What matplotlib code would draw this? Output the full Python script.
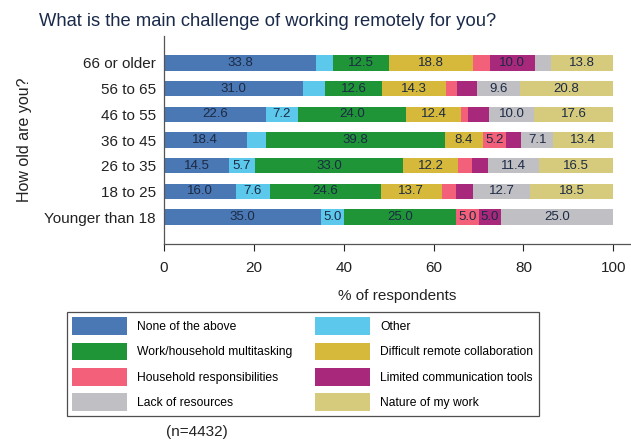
import numpy as np
import matplotlib
matplotlib.use('Agg')
import matplotlib.pyplot as plt

plt.rcParams['font.family'] = ['Liberation Sans', 'DejaVu Sans']

ages = ['Younger than 18', '18 to 25', '26 to 35', '36 to 45', '46 to 55', '56 to 65', '66 or older']
series = ['None of the above', 'Other', 'Work/household multitasking', 'Difficult remote collaboration',
          'Household responsibilities', 'Limited communication tools', 'Lack of resources', 'Nature of my work']
colors = ['#4a78b4', '#5cc8ec', '#1f9538', '#d6b93a', '#f2607a', '#a8287c', '#c0c0c4', '#d6ca7c']

none_above = [35.0, 16.0, 14.5, 18.4, 22.6, 31.0, 33.8]
other = [5.0, 7.6, 5.7, 4.3, 7.2, 4.9, 3.7]
multitask = [25.0, 24.6, 33.0, 39.8, 24.0, 12.6, 12.5]
remote_collab = [0.0, 13.7, 12.2, 8.4, 12.4, 14.3, 18.8]
household = [5.0, 3.1, 3.2, 5.2, 1.5, 2.5, 3.7]
comm_tools = [5.0, 3.8, 3.5, 3.4, 4.7, 4.3, 10.0]
resources = [25.0, 12.7, 11.4, 7.1, 10.0, 9.6, 3.7]
nature = [0.0, 18.5, 16.5, 13.4, 17.6, 20.8, 13.8]

data = [none_above, other, multitask, remote_collab, household, comm_tools, resources, nature]

fig = plt.figure(figsize=(6.31, 4.45), dpi=100)
ax = fig.add_axes([164/631, 1-244/445, 466/631, 208/445])

y = np.arange(len(ages))
left = np.zeros(len(ages))
txtcol = '#1c2a44'
for vals, name, c in zip(data, series, colors):
    vals = np.array(vals)
    ax.barh(y, vals, left=left, height=0.6, color=c, label=name)
    for yi, l, v in zip(y, left, vals):
        if v >= 5.0:
            ax.text(l + v/2, yi, '%.1f' % v, ha='center', va='center', fontsize=9.5, color=txtcol)
    left = left + vals

ax.set_xlim(0, 103.7)
ax.set_ylim(-1.05, 7.05)
ax.set_yticks(y)
ax.set_yticklabels(ages, fontsize=11, color='#222222')
ax.set_xticks([0, 20, 40, 60, 80, 100])
ax.tick_params(axis='x', labelsize=11, colors='#222222', length=5, pad=7)
ax.tick_params(axis='y', length=0, pad=6)
for s in ['top', 'right']:
    ax.spines[s].set_visible(False)
for s in ['left', 'bottom']:
    ax.spines[s].set_color('#555555')
    ax.spines[s].set_linewidth(0.9)
ax.set_xlabel('% of respondents', fontsize=11, color='#222222', labelpad=10)
ax.set_ylabel('How old are you?', fontsize=11.5, color='#222222', labelpad=9)

fig.text(268/631, 1-22/445, 'What is the main challenge of working remotely for you?',
         ha='center', va='center', fontsize=13.2, color='#1a2a4a')

h, l = ax.get_legend_handles_labels()
order = [0, 2, 4, 6, 1, 3, 5, 7]
leg = fig.legend([h[i] for i in order], [l[i] for i in order], ncol=2, loc='upper left',
                 bbox_to_anchor=(67/631, 1-312/445), borderaxespad=0, fontsize=8.7,
                 frameon=True, fancybox=False, edgecolor='#222222', handlelength=4.55,
                 handleheight=1.9, labelspacing=0.6, handletextpad=0.8, columnspacing=1.9,
                 borderpad=0.45)
leg.get_frame().set_linewidth(0.9)

fig.text(197/631, 1-432/445, '(n=4432)', ha='center', va='center', fontsize=11, color='#222222')

plt.savefig('out.png', dpi=100)
